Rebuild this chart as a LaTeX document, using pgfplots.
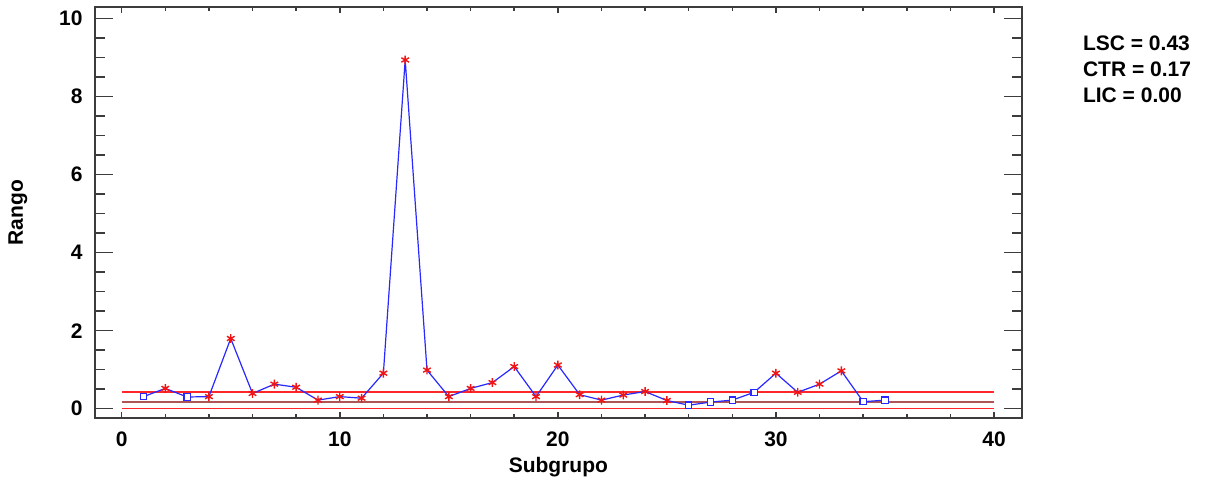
\documentclass[border=0pt]{standalone}
\usepackage{pgfplots}
\pgfplotsset{compat=1.18}
\usepackage{fontspec}
\setmainfont{Liberation Sans}

\definecolor{framegray}{RGB}{60,60,60}
\definecolor{seriesblue}{RGB}{40,40,255}
\definecolor{limred}{RGB}{255,40,40}
\definecolor{ctrred}{RGB}{175,85,85}
\definecolor{starred}{RGB}{240,20,20}

\pgfplotstableread{
x y
1 0.31
2 0.52
3 0.30
4 0.31
5 1.80
6 0.39
7 0.63
8 0.55
9 0.22
10 0.31
11 0.27
12 0.91
13 8.94
14 0.99
15 0.31
16 0.52
17 0.67
18 1.08
19 0.31
20 1.12
21 0.36
22 0.22
23 0.35
24 0.44
25 0.21
26 0.09
27 0.17
28 0.22
29 0.42
30 0.91
31 0.42
32 0.63
33 0.97
34 0.18
35 0.22
}\rangos

% flagged subgroups (asterisks)
\pgfplotstableread{
x y
2 0.52
4 0.31
5 1.80
6 0.39
7 0.63
8 0.55
9 0.22
10 0.31
11 0.27
12 0.91
13 8.94
14 0.99
15 0.31
16 0.52
17 0.67
18 1.08
19 0.31
20 1.12
21 0.36
22 0.22
23 0.35
24 0.44
25 0.21
30 0.91
31 0.42
32 0.63
33 0.97
}\marcados

% remaining subgroups (squares)
\pgfplotstableread{
x y
1 0.31
3 0.30
26 0.09
27 0.17
28 0.22
29 0.42
34 0.18
35 0.22
}\normales

\begin{document}
\begin{tikzpicture}
\pgfplotsset{
  base/.style={
    scale only axis,
    width=463.35pt, height=205.5pt,
    xmin=-1.224, xmax=41.27,
    ymin=-0.246, ymax=10.29,
    tick align=inside,
    clip=false,
  }
}
\begin{axis}[
  base,
  axis line style={draw=framegray, line width=1pt},
  xtick={0,10,20,30,40},
  xtick style={draw=none},
  ytick={0,2,4,6,8,10},
  minor y tick num=3,
  major tick length=8.8pt,
  minor tick length=5pt,
  ytick style={draw=framegray, line width=0.75pt},
  minor y tick style={draw=framegray, line width=0.75pt},
  /pgf/number format/assume math mode=true,
  tick label style={font=\fontsize{10.5}{12}\selectfont\bfseries, inner sep=0pt},
  xticklabel style={anchor=north, yshift=-6.5pt},
  yticklabel style={anchor=east, xshift=-6pt},
  xlabel={Subgrupo},
  ylabel={Rango},
  label style={font=\fontsize{10.5}{12}\selectfont\bfseries, inner sep=0pt},
  xlabel style={at={(axis description cs:0.5,-0.0942)}, anchor=north},
  ylabel style={at={(axis description cs:-0.0831,0.5)}, anchor=center, rotate=0},
]
  % control limits
  \addplot[limred, line width=0.75pt] coordinates {(0,0.43) (40,0.43)};
  \addplot[ctrred, line width=0.75pt] coordinates {(0,0.17) (40,0.17)};
  \addplot[limred, line width=0.75pt] coordinates {(0,0.00) (40,0.00)};
  % range series
  \addplot[seriesblue, line width=0.6pt] table[x=x, y=y] {\rangos};
  \addplot[only marks, mark=asterisk, mark size=2.2pt, starred, line width=0.7pt] table[x=x, y=y] {\marcados};
  \addplot[only marks, mark=square*, mark size=1.6pt, draw=seriesblue, fill=white, line width=0.6pt] table[x=x, y=y] {\normales};
  \node[anchor=north west, align=left, inner sep=0pt,
        font=\fontsize{10.5}{13}\selectfont\bfseries]
    at (axis description cs:1.0658,0.9326)
    {LSC = 0.43\\CTR = 0.17\\LIC = 0.00};
\end{axis}
\begin{axis}[
  base,
  axis line style={draw=none},
  ytick=\empty,
  xtick={0,10,20,30,40},
  xticklabels={},
  minor x tick num=4,
  major tick length=3pt,
  minor tick length=2pt,
  xtick style={draw=framegray, line width=0.75pt},
  minor x tick style={draw=framegray, line width=0.75pt},
]
\end{axis}
\path[use as bounding box] (-47.5pt,-32.35pt) rectangle (556pt,209.15pt);
\end{tikzpicture}
\end{document}
